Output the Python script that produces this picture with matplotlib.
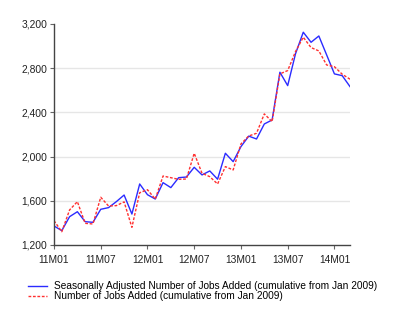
import matplotlib
matplotlib.use("Agg")
import matplotlib.pyplot as plt
from matplotlib.ticker import FuncFormatter

plt.rcParams['font.family'] = ['Liberation Sans', 'DejaVu Sans']

tick_labels = ["11M01", "11M07", "12M01", "12M07", "13M01", "13M07", "14M01"]
tick_months = [0, 6, 12, 18, 24, 30, 36]

seasonal = [1372, 1330, 1456, 1501, 1411, 1405, 1523, 1538, 1592, 1652,
            1480, 1752, 1655, 1616, 1764, 1719, 1809, 1815, 1903, 1834,
            1870, 1795, 2030, 1954, 2090, 2185, 2159, 2295, 2331, 2763,
            2642, 2929, 3125, 3034, 3091, 2920, 2748, 2732, 2633]
raw = [1420, 1320, 1517, 1592, 1396, 1390, 1632, 1553, 1556, 1590,
       1360, 1673, 1700, 1615, 1824, 1809, 1794, 1797, 2030, 1849,
       1818, 1752, 1909, 1879, 2114, 2186, 2211, 2386, 2316, 2748,
       2778, 2949, 3080, 2986, 2956, 2829, 2813, 2745, 2700]

months = list(range(len(seasonal)))

fig = plt.figure(figsize=(4.0, 3.27), dpi=100)
ax = fig.add_axes([0.135, 0.2508, 0.74, 0.676])

for y in [1600, 2000, 2400, 2800]:
    ax.axhline(y, color='#e6e6e6', lw=1.0, zorder=0)

l1, = ax.plot(months, seasonal, color='#2b2bff', lw=1.0,
              label='Seasonally Adjusted Number of Jobs Added (cumulative from Jan 2009)')
l2, = ax.plot(months, raw, color='#ff3030', lw=1.0, ls=(0, (2, 1.2)),
              label='Number of Jobs Added (cumulative from Jan 2009)')

ax.set_xlim(0, len(seasonal) - 1)
ax.set_ylim(1200, 3200)
ax.set_yticks([1200, 1600, 2000, 2400, 2800, 3200])
ax.yaxis.set_major_formatter(FuncFormatter(lambda v, p: f"{int(v):,}"))
ax.set_xticks(tick_months)
ax.set_xticklabels(tick_labels)

for s in ['top', 'right']:
    ax.spines[s].set_visible(False)
for s in ['left', 'bottom']:
    ax.spines[s].set_color('#444444')
    ax.spines[s].set_linewidth(1.0)
ax.tick_params(axis='both', direction='out', length=3, width=0.8,
               color='#666666', labelsize=7.4, labelcolor='#222222', pad=2)
ax.tick_params(axis='x', pad=4)

fig.legend(handles=[l1, l2], loc='upper left', bbox_to_anchor=(0.07, 0.14),
           frameon=False, fontsize=7.25, handlelength=1.9, handletextpad=0.65,
           labelspacing=0.02, borderaxespad=0, borderpad=0)

fig.savefig('out.png', dpi=100)
